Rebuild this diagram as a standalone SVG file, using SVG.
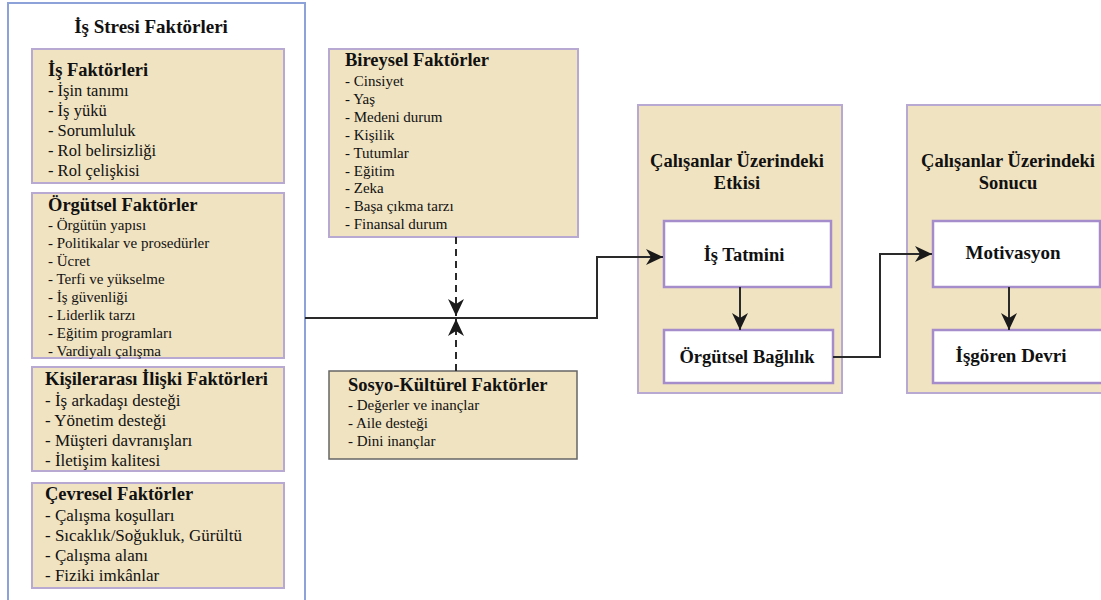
<svg xmlns="http://www.w3.org/2000/svg" width="1101" height="600" viewBox="0 0 1101 600">
<defs>
<style>
.t{font-family:"Liberation Serif","Times New Roman",serif;fill:#111}
.b{font-weight:bold}
.box{fill:#F0E3C1;stroke:#B7A9D2;stroke-width:2}
.wbox{fill:#fff;stroke:#A48DCA;stroke-width:2.5}
.ln{fill:none;stroke:#2a2a2a;stroke-width:2}
.dash{fill:none;stroke:#2a2a2a;stroke-width:2;stroke-dasharray:7 5}
.h{font-size:18.5px}
.i17{font-size:16.5px}
.i15{font-size:15px}
</style>
<marker id="ah" markerUnits="userSpaceOnUse" markerWidth="18" markerHeight="16" refX="17" refY="8" orient="auto">
<path d="M0,0 L17,8 L0,16 L5,8 z" fill="#1a1a1a"/>
</marker>
</defs>
<rect width="1101" height="600" fill="#fff"/>

<g id="stress-factors">
<rect x="8" y="3" width="297" height="610" fill="#fff" stroke="#8EA2DA" stroke-width="2"/>
<text class="t b" x="151" y="33" font-size="19" text-anchor="middle">İş Stresi Faktörleri</text>
</g>

<g id="is-faktorleri">
<rect class="box" x="32" y="49" width="252" height="134"/>
<text class="t b h" x="48" y="76">İş Faktörleri</text>
<text class="t i17" x="48" y="96">- İşin tanımı</text>
<text class="t i17" x="48" y="116">- İş yükü</text>
<text class="t i17" x="48" y="136">- Sorumluluk</text>
<text class="t i17" x="48" y="156">- Rol belirsizliği</text>
<text class="t i17" x="48" y="176">- Rol çelişkisi</text>
</g>

<g id="orgutsel-faktorler">
<rect class="box" x="32" y="193" width="252" height="165"/>
<text class="t b h" x="48" y="211">Örgütsel Faktörler</text>
<text class="t i15" x="48" y="230">- Örgütün yapısı</text>
<text class="t i15" x="48" y="248">- Politikalar ve prosedürler</text>
<text class="t i15" x="48" y="266">- Ücret</text>
<text class="t i15" x="48" y="284">- Terfi ve yükselme</text>
<text class="t i15" x="48" y="302">- İş güvenliği</text>
<text class="t i15" x="48" y="320">- Liderlik tarzı</text>
<text class="t i15" x="48" y="338">- Eğitim programları</text>
<text class="t i15" x="48" y="356">- Vardiyalı çalışma</text>
</g>

<g id="kisilerarasi">
<rect class="box" x="32" y="367" width="252" height="104"/>
<text class="t b h" x="45" y="385">Kişilerarası İlişki Faktörleri</text>
<text class="t" x="45" y="406" font-size="17">- İş arkadaşı desteği</text>
<text class="t" x="45" y="426" font-size="17">- Yönetim desteği</text>
<text class="t" x="45" y="446" font-size="17">- Müşteri davranışları</text>
<text class="t" x="45" y="466" font-size="17">- İletişim kalitesi</text>
</g>

<g id="cevresel">
<rect class="box" x="32" y="483" width="252" height="105"/>
<text class="t b h" x="45" y="500">Çevresel Faktörler</text>
<text class="t" x="45" y="521" font-size="17">- Çalışma koşulları</text>
<text class="t" x="45" y="541" font-size="17">- Sıcaklık/Soğukluk, Gürültü</text>
<text class="t" x="45" y="561" font-size="17">- Çalışma alanı</text>
<text class="t" x="45" y="581" font-size="17">- Fiziki imkânlar</text>
</g>

<g id="bireysel">
<rect class="box" x="329" y="49" width="249" height="188"/>
<text class="t b h" x="345" y="66">Bireysel Faktörler</text>
<text class="t i15" x="345" y="86">- Cinsiyet</text>
<text class="t i15" x="345" y="103.9">- Yaş</text>
<text class="t i15" x="345" y="121.8">- Medeni durum</text>
<text class="t i15" x="345" y="139.7">- Kişilik</text>
<text class="t i15" x="345" y="157.6">- Tutumlar</text>
<text class="t i15" x="345" y="175.5">- Eğitim</text>
<text class="t i15" x="345" y="193.4">- Zeka</text>
<text class="t i15" x="345" y="211.3">- Başa çıkma tarzı</text>
<text class="t i15" x="345" y="229.2">- Finansal durum</text>
</g>

<g id="sosyo-kulturel">
<rect x="329" y="371" width="248" height="88" fill="#F0E3C1" stroke="#666" stroke-width="1.5"/>
<text class="t b h" x="348" y="391">Sosyo-Kültürel Faktörler</text>
<text class="t i15" x="348" y="410">- Değerler ve inançlar</text>
<text class="t i15" x="348" y="428">- Aile desteği</text>
<text class="t i15" x="348" y="446">- Dini inançlar</text>
</g>

<g id="etkisi-panel">
<rect class="box" x="638" y="105" width="204" height="288"/>
<text class="t b h" x="737" y="167" text-anchor="middle">Çalışanlar Üzerindeki</text>
<text class="t b h" x="737" y="189" text-anchor="middle">Etkisi</text>
</g>

<g id="is-tatmini">
<rect class="wbox" x="664" y="221" width="167" height="66"/>
<text class="t b h" x="744" y="261" text-anchor="middle">İş Tatmini</text>
</g>

<g id="orgutsel-baglilik">
<rect class="wbox" x="664" y="330" width="169" height="53"/>
<text class="t b h" x="747" y="363" text-anchor="middle">Örgütsel Bağlılık</text>
</g>

<g id="sonucu-panel">
<rect class="box" x="907" y="105" width="210" height="288"/>
<text class="t b h" x="1008" y="167" text-anchor="middle">Çalışanlar Üzerindeki</text>
<text class="t b h" x="1008" y="189" text-anchor="middle">Sonucu</text>
</g>

<g id="motivasyon">
<rect class="wbox" x="933" y="221" width="167" height="66"/>
<text class="t b" x="1013" y="259" font-size="19" text-anchor="middle">Motivasyon</text>
</g>

<g id="isgoren-devri">
<rect class="wbox" x="933" y="330" width="175" height="53"/>
<text class="t b" x="1011" y="362" font-size="19" text-anchor="middle">İşgören Devri</text>
</g>

<g id="connectors">
<path class="ln" d="M305,318 H597 V257 H663" marker-end="url(#ah)"/>
<path class="dash" d="M456,237 V316" marker-end="url(#ah)"/>
<path class="dash" d="M456,371 V319" marker-end="url(#ah)"/>
<path class="ln" d="M740,287 V330" marker-end="url(#ah)"/>
<path class="ln" d="M833,357 H880 V254 H932" marker-end="url(#ah)"/>
<path class="ln" d="M1009,287 V330" marker-end="url(#ah)"/>
</g>
</svg>
